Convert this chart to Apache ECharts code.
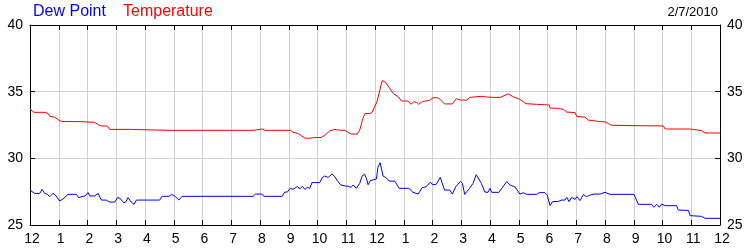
<!DOCTYPE html>
<html>
<head>
<meta charset="utf-8">
<script src="https://cdn.jsdelivr.net/npm/echarts@6/dist/echarts.min.js"></script>
<style>
html,body{margin:0;padding:0;background:#fff;}
#chart{width:750px;height:250px;}
</style>
</head>
<body>
<div id="chart"></div>
<script>
// Hours since midnight (0..24) and readings
var tempHours = [0,0.14,0.49,0.63,0.69,0.86,1.00,1.09,1.78,1.84,2.25,2.37,2.48,2.69,2.77,3.52,3.58,4.87,4.92,4.97,7.76,7.79,8.10,8.17,9.07,9.15,9.32,9.56,9.73,9.84,10.13,10.25,10.42,10.60,10.71,10.95,11.06,11.18,11.38,11.47,11.58,11.66,11.82,11.90,12.07,12.25,12.37,12.51,12.65,12.80,12.92,13.15,13.26,13.35,13.44,13.52,13.64,13.90,14.02,14.16,14.25,14.42,14.69,14.83,14.97,15.20,15.29,15.58,15.76,15.87,16.12,16.35,16.63,16.81,17.04,17.25,17.62,17.68,18.06,18.09,18.38,18.55,18.67,18.96,19.02,19.30,19.42,19.77,20.00,20.12,20.23,20.98,22.03,22.09,22.96,23.02,23.36,23.48,24.00];
var tempValues = [33.68,33.45,33.45,33.37,33.15,33.08,32.87,32.77,32.75,32.70,32.70,32.53,32.43,32.43,32.17,32.17,32.10,32.10,32.17,32.10,32.10,32.20,32.20,32.10,32.10,31.95,31.87,31.52,31.50,31.55,31.57,31.72,32.05,32.17,32.12,32.10,31.95,31.82,31.82,32.12,33.00,33.37,33.35,33.45,34.25,35.83,35.70,35.25,34.83,34.63,34.30,34.30,34.05,34.25,34.20,34.05,34.25,34.35,34.55,34.55,34.45,34.08,34.08,34.47,34.37,34.37,34.57,34.63,34.65,34.60,34.57,34.57,34.83,34.62,34.42,34.10,34.05,34.00,34.00,33.77,33.75,33.67,33.47,33.43,33.13,33.10,32.87,32.77,32.73,32.60,32.48,32.45,32.43,32.20,32.20,32.10,32.08,31.90,31.90];

var dewHours = [0,0.16,0.34,0.42,0.51,0.60,0.69,0.80,0.88,1.03,1.18,1.32,1.61,1.69,1.81,1.92,2.02,2.08,2.25,2.37,2.48,2.65,2.77,2.95,3.04,3.12,3.26,3.33,3.41,3.52,3.62,3.70,4.51,4.60,4.84,4.92,5.03,5.18,5.29,7.76,7.84,8.06,8.14,8.77,8.86,8.95,9.05,9.15,9.21,9.30,9.38,9.47,9.56,9.65,9.73,9.81,10.08,10.16,10.25,10.37,10.50,10.60,10.69,10.81,10.97,11.09,11.16,11.24,11.35,11.47,11.55,11.64,11.70,11.76,11.84,11.93,12.05,12.10,12.18,12.28,12.37,12.49,12.69,12.84,13.18,13.32,13.50,13.64,13.78,13.92,14.02,14.13,14.27,14.42,14.60,14.69,14.81,14.97,15.04,15.12,15.29,15.41,15.52,15.70,15.82,15.93,16.00,16.06,16.31,16.58,16.70,16.87,17.04,17.16,17.28,17.62,17.72,17.91,17.99,18.09,18.18,18.38,18.49,18.61,18.67,18.75,18.84,18.96,19.02,19.13,19.25,19.36,19.48,19.62,19.83,20.00,20.17,21.01,21.16,21.62,21.70,21.80,21.89,21.97,22.09,22.49,22.55,22.90,22.96,23.36,23.48,24.00];
var dewValues = [27.62,27.37,27.37,27.67,27.37,27.30,27.13,27.37,27.25,26.80,27.00,27.30,27.30,27.05,27.13,27.18,27.43,27.18,27.18,27.37,26.87,26.87,26.72,26.72,27.05,27.02,26.67,26.72,27.05,26.72,26.55,26.87,26.87,27.15,27.15,27.30,27.18,26.87,27.15,27.15,27.32,27.32,27.15,27.15,27.47,27.47,27.75,27.67,27.60,27.90,27.70,27.90,27.67,27.82,27.75,28.18,28.18,28.55,28.67,28.57,28.82,28.62,28.33,28.00,27.92,27.90,27.82,28.00,27.75,28.12,28.67,28.80,28.50,28.02,28.33,28.38,28.45,29.32,29.67,28.67,28.57,28.30,28.28,27.75,27.75,27.45,27.32,27.80,27.87,28.20,28.02,28.05,28.57,27.62,27.62,27.32,27.87,28.27,28.12,27.30,27.75,28.12,28.77,28.12,27.47,27.45,27.75,27.45,27.45,28.25,28.00,27.85,27.32,27.42,27.30,27.30,27.43,27.43,27.25,26.45,26.75,26.77,26.87,26.87,27.07,26.75,27.07,26.92,27.12,26.83,27.28,27.12,27.25,27.32,27.32,27.45,27.30,27.30,26.55,26.55,26.33,26.55,26.33,26.57,26.45,26.45,26.12,26.10,25.70,25.65,25.50,25.50];

var seriesNames = ['Dew Point', 'Temperature'];
var dateLabel = '2/7/2010';
var yTicks = [25, 30, 35, 40];
var hourLabels = ['12','1','2','3','4','5','6','7','8','9','10','11','12','1','2','3','4','5','6','7','8','9','10','11','12'];

function pairs(xs, ys) { return xs.map(function (x, i) { return [x, ys[i]]; }); }

var chart = echarts.init(document.getElementById('chart'), null, {renderer: 'canvas'});
var font = 'Arial, "Liberation Sans", sans-serif';
var axisLabelStyle = {color: '#000', fontSize: 14, fontFamily: font};

chart.setOption({
  animation: false,
  backgroundColor: '#fff',
  grid: {left: 30, right: 30, top: 25, bottom: 25, containLabel: false},
  graphic: [
    {type: 'text', left: 33, top: 4, style: {text: seriesNames[0], fill: '#0000ff', font: '16px ' + font}},
    {type: 'text', left: 123, top: 4, style: {text: seriesNames[1], fill: '#ff0000', font: '16px ' + font}},
    {type: 'text', right: 32, top: 6, style: {text: dateLabel, fill: '#000', font: '13px ' + font}}
  ],
  xAxis: [
    {
      type: 'value', min: 0, max: 24, interval: 1, position: 'bottom',
      axisLine: {show: true, onZero: false, lineStyle: {color: '#000', width: 1}},
      axisTick: {show: true, inside: true, length: 5, lineStyle: {color: '#000'}},
      axisLabel: Object.assign({margin: 7, padding: [0, 0, 0, 4],
        formatter: function (v) { return hourLabels[Math.round(v)]; }}, axisLabelStyle),
      splitLine: {show: true, lineStyle: {color: '#d0d0d0', width: 1}}
    },
    {
      type: 'value', min: 0, max: 24, interval: 1, position: 'top',
      axisLine: {show: true, onZero: false, lineStyle: {color: '#000', width: 1}},
      axisTick: {show: true, inside: true, length: 5, lineStyle: {color: '#000'}},
      axisLabel: {show: false},
      splitLine: {show: false}
    }
  ],
  yAxis: [
    {
      type: 'value', min: yTicks[0], max: yTicks[yTicks.length - 1], interval: 5, position: 'left',
      axisLine: {show: true, onZero: false, lineStyle: {color: '#000', width: 1}},
      axisTick: {show: true, inside: true, length: 5, lineStyle: {color: '#000'}},
      axisLabel: Object.assign({margin: 7}, axisLabelStyle),
      splitLine: {show: true, lineStyle: {color: '#d0d0d0', width: 1}}
    },
    {
      type: 'value', min: yTicks[0], max: yTicks[yTicks.length - 1], interval: 5, position: 'right',
      axisLine: {show: true, onZero: false, lineStyle: {color: '#000', width: 1}},
      axisTick: {show: true, inside: true, length: 5, lineStyle: {color: '#000'}},
      axisLabel: Object.assign({margin: 7}, axisLabelStyle),
      splitLine: {show: false}
    }
  ],
  series: [
    {
      name: seriesNames[0], type: 'line', xAxisIndex: 0, yAxisIndex: 0,
      data: pairs(dewHours, dewValues), showSymbol: false, symbol: 'none',
      lineStyle: {color: '#0000ff', width: 1}, itemStyle: {color: '#0000ff'}
    },
    {
      name: seriesNames[1], type: 'line', xAxisIndex: 0, yAxisIndex: 0,
      data: pairs(tempHours, tempValues), showSymbol: false, symbol: 'none',
      lineStyle: {color: '#ff0000', width: 1}, itemStyle: {color: '#ff0000'}
    }
  ]
});
</script>
</body>
</html>
